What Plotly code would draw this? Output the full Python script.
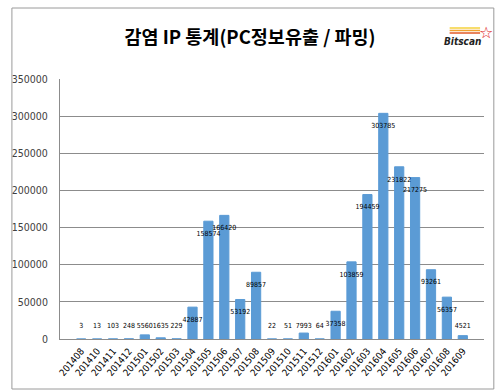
import plotly.graph_objects as go

categories = ["201408", "201410", "201411", "201412", "201501", "201502", "201503",
              "201504", "201505", "201506", "201507", "201508", "201509", "201510",
              "201511", "201512", "201601", "201602", "201603", "201604", "201605",
              "201606", "201607", "201608", "201609"]
values = [3, 13, 103, 248, 5560, 1635, 229, 42887, 158574, 166420, 53192, 89857,
          22, 51, 7993, 64, 37358, 103859, 194459, 303785, 231822, 217275, 93261,
          56357, 4521]
y_ticks = [0, 50000, 100000, 150000, 200000, 250000, 300000, 350000]

BAR = "#5B9BD5"
LABEL_OFFSET = 17500  # label sits just inside the bar top, but never below the floor
NARROW = "DejaVu Sans Condensed, Liberation Sans Narrow, Liberation Sans"

label_y = [max(v - LABEL_OFFSET, LABEL_OFFSET) for v in values]

# pixel -> paper helpers (plot area: x 52..484, y 79..339)
def px(x):
    return (x - 52) / 432

def py(y):
    return (339 - y) / 260

fig = go.Figure()
fig.add_trace(go.Bar(
    x=categories, y=values, marker=dict(color=BAR, line=dict(color=BAR, width=1)),
    hoverinfo="x+y", showlegend=False,
))
fig.add_trace(go.Scatter(
    x=categories, y=label_y, mode="text", text=[str(v) for v in values],
    textfont=dict(family=NARROW, size=7, color="#000000"),
    textposition="middle center", showlegend=False, hoverinfo="skip",
))

fig.update_layout(
    width=500, height=392,
    margin=dict(l=52, r=16, t=79, b=53),
    paper_bgcolor="white", plot_bgcolor="white",
    bargap=0.42,
    xaxis=dict(
        type="category", tickangle=-50, showgrid=False,
        showline=True, linecolor="#8c8c8c", linewidth=1,
        ticks="outside", ticklen=2, tickcolor="rgba(0,0,0,0)",
        tickfont=dict(family=NARROW, size=9.5, color="#000000"),
    ),
    yaxis=dict(
        range=[0, 350000], tickvals=y_ticks, ticktext=[str(t) for t in y_ticks],
        showgrid=True, gridcolor="#8c8c8c", gridwidth=1,
        showline=True, linecolor="#8c8c8c", linewidth=1,
        zeroline=False, ticks="outside", ticklen=9, tickcolor="rgba(0,0,0,0)",
        tickfont=dict(family=NARROW, size=10.5, color="#404040"),
    ),
    title=dict(
        text="<b>감염 IP 통계(PC정보유출 / 파밍)</b>",
        x=0.5, xanchor="center", y=1 - 38 / 392, yanchor="middle",
        font=dict(family="Noto Sans CJK KR", size=18.5, color="#000000"),
    ),
    shapes=[
        dict(type="rect", xref="paper", yref="paper",
             x0=px(3), x1=px(494), y0=py(389), y1=py(8),
             line=dict(color="#9a9a9a", width=1), fillcolor="rgba(0,0,0,0)", layer="above"),
        dict(type="line", xref="paper", yref="paper", x0=px(449), x1=px(480), y0=py(28), y1=py(28),
             line=dict(color="#f5d23c", width=1.5)),
        dict(type="line", xref="paper", yref="paper", x0=px(449), x1=px(480), y0=py(30.5), y1=py(30.5),
             line=dict(color="#f0a030", width=1.5)),
        dict(type="line", xref="paper", yref="paper", x0=px(449), x1=px(480), y0=py(33), y1=py(33),
             line=dict(color="#e05a28", width=1.5)),
    ],
    annotations=[
        dict(text="<b><i>Bitscan</i></b>", xref="paper", yref="paper",
             x=px(462), y=py(41), xanchor="center", yanchor="middle",
             showarrow=False, font=dict(family=NARROW, size=10, color="#222222")),
        dict(text="☆", xref="paper", yref="paper",
             x=px(486), y=py(33), xanchor="center", yanchor="middle",
             showarrow=False, font=dict(family="DejaVu Sans", size=16, color="#e02020")),
    ],
)

fig.write_html(
    "out.html",
    config={"displayModeBar": False},
    post_script="document.body.style.margin='0';document.body.style.overflow='hidden';",
)
